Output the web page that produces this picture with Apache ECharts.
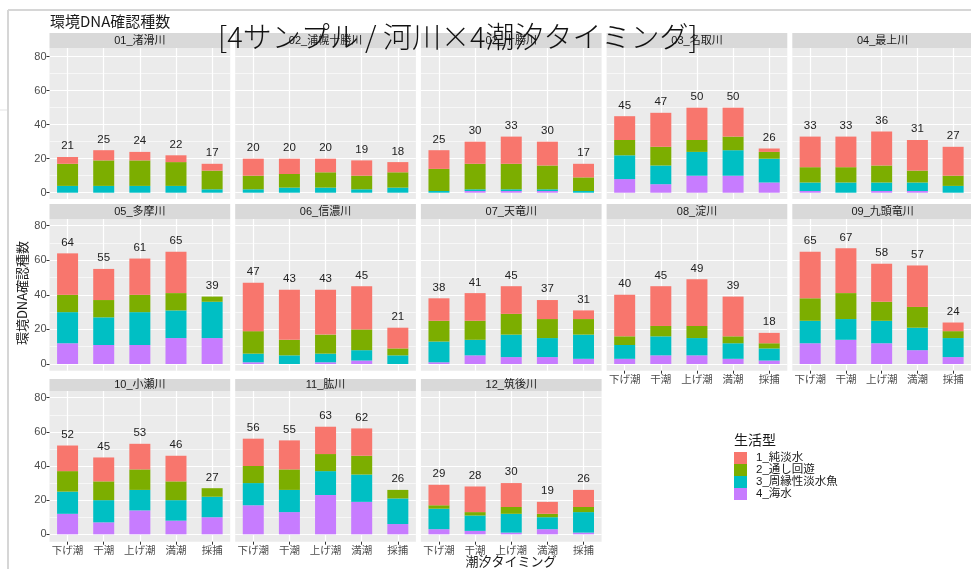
<!DOCTYPE html>
<html lang="ja">

<head>
    <meta charset="UTF-8">
    <title>環境DNA確認種数</title>
    <script src="https://cdn.jsdelivr.net/npm/echarts@6/dist/echarts.min.js"></script>
</head>

<style>
    html,
    body {
        margin: 0;
        padding: 0;
        background: #fff;
    }

    #main {
        width: 971px;
        height: 569px;
    }
</style>

<body>
    <div id="main"></div>
</body>

</html>

<script>
    let rivers = ['01_渚滑川', '02_浦幌十勝川', '02_十勝川', '03_名取川', '04_最上川',
        '05_多摩川', '06_信濃川', '07_天竜川', '08_淀川', '09_九頭竜川',
        '10_小瀬川', '11_肱川', '12_筑後川'];
    let timing = ['下げ潮', '干潮', '上げ潮', '満潮', '採捕'];
    let typeNames = ['1_純淡水', '2_通し回遊', '3_周縁性淡水魚', '4_海水'];

    // 1_純淡水
    let freshwater = [[4, 6, 5, 4, 4], [10, 9, 8, 9, 6], [11, 13, 16, 14, 8], [14, 20, 19, 17, 2], [18, 18, 20, 18, 17],
        [24, 18, 21, 24, 0], [28, 29, 26, 25, 12], [13, 16, 16, 11, 5], [24, 23, 27, 23, 6], [27, 26, 22, 24, 5],
        [15, 14, 15, 15, 0], [16, 17, 16, 16, 0], [12, 15, 14, 7, 10]];
    // 2_通し回遊
    let diadromous = [[13, 15, 15, 14, 11], [8, 8, 9, 8, 9], [13, 15, 15, 14, 8], [9, 11, 7, 8, 4], [9, 9, 10, 7, 6],
        [10, 10, 10, 10, 3], [13, 9, 11, 12, 4], [12, 11, 12, 11, 9], [5, 6, 7, 4, 3], [13, 15, 11, 12, 4],
        [12, 11, 12, 11, 5], [10, 12, 10, 11, 5], [2, 2, 4, 2, 3]];
    // 3_周縁性淡水魚
    let peripheral = [[4, 4, 4, 4, 2], [2, 3, 3, 2, 3], [1, 1, 1, 1, 1], [14, 11, 14, 15, 14], [5, 6, 5, 5, 4],
        [18, 16, 19, 16, 21], [5, 5, 5, 6, 5], [12, 9, 13, 11, 14], [8, 11, 10, 9, 7], [13, 12, 13, 13, 11],
        [13, 13, 12, 12, 12], [13, 13, 14, 16, 15], [12, 9, 11, 7, 12]];
    // 4_海水
    let seaWater = [[0, 0, 0, 0, 0], [0, 0, 0, 0, 0], [0, 1, 1, 1, 0], [8, 5, 10, 10, 6], [1, 0, 1, 1, 0],
        [12, 11, 11, 15, 15], [1, 0, 1, 2, 0], [1, 5, 4, 4, 3], [3, 5, 5, 3, 2], [12, 14, 12, 8, 4],
        [12, 7, 14, 8, 10], [17, 13, 23, 19, 6], [3, 2, 1, 3, 1]];

    let color = ['#F8766D', '#7CAE00', '#00BFC4', '#C77CFF'];

    // facet layout
    let colLeft = [49.5, 235.2, 420.9, 606.6, 792.3];
    let panelW = 180.7;
    let stripTop = [33, 204, 379];
    let panelTop = [48, 219, 391];
    let y80 = [56.7, 225.7, 397.7];
    let y0 = [192.7, 364, 534.3];
    let panelBottom = [199, 370.7, 541.7];

    let latin = '"Liberation Sans", "Noto Sans CJK JP", sans-serif';
    let cjk = '"Noto Sans CJK JP", sans-serif';

    function total(k, i) {
        return seaWater[k][i] + peripheral[k][i] + diadromous[k][i] + freshwater[k][i];
    }

    let grids = [], xAxes = [], yAxes = [], series = [];
    let graphics = [
        { type: 'line', shape: { x1: 8, y1: 10, x2: 971, y2: 10 }, style: { stroke: '#d6d6d6', lineWidth: 2 } },
        { type: 'line', shape: { x1: 8, y1: 10, x2: 8, y2: 569 }, style: { stroke: '#d6d6d6', lineWidth: 2 } },
        { type: 'line', shape: { x1: 0, y1: 110, x2: 7, y2: 110 }, style: { stroke: '#e3e3e3', lineWidth: 1 } }
    ];

    for (let k = 0; k < rivers.length; k++) {
        let row = Math.floor(k / 5), col = k % 5;
        let isBottom = k >= 8;

        // panel background + vertical grid lines
        grids.push({
            left: colLeft[col], top: panelTop[row], width: panelW,
            height: panelBottom[row] - panelTop[row],
            show: true, backgroundColor: '#ebebeb', borderWidth: 0, z: -1
        });
        xAxes.push({
            gridIndex: 2 * k, type: 'category', data: timing,
            axisLine: { show: false },
            axisTick: { show: isBottom, interval: 0, alignWithLabel: true, length: 3, lineStyle: { color: '#333' } },
            axisLabel: { show: isBottom, interval: 0, fontSize: 10.5, color: '#4d4d4d', margin: 3, fontFamily: cjk },
            splitLine: { show: true, interval: 0, alignWithLabel: true, lineStyle: { color: '#fff', width: 1.2 } }
        });
        yAxes.push({ gridIndex: 2 * k, type: 'value', show: false, min: 0, max: 1 });

        // data grid
        grids.push({
            left: colLeft[col], top: y80[row], width: panelW, height: y0[row] - y80[row]
        });
        xAxes.push({ gridIndex: 2 * k + 1, type: 'category', data: timing, show: false });
        yAxes.push({
            gridIndex: 2 * k + 1, type: 'value', min: 0, max: 80, interval: 20,
            axisLine: { show: false },
            axisTick: { show: col === 0, length: 3, lineStyle: { color: '#333' } },
            axisLabel: { show: col === 0, fontSize: 11, color: '#4d4d4d', margin: 3, fontFamily: latin },
            splitLine: { show: true, lineStyle: { color: '#fff', width: 1.2 } },
            minorTick: { show: false, splitNumber: 2 },
            minorSplitLine: { show: true, lineStyle: { color: '#fff', width: 0.6 } }
        });

        let layers = [seaWater, peripheral, diadromous, freshwater];
        let layerNames = [typeNames[3], typeNames[2], typeNames[1], typeNames[0]];
        let layerColors = [color[3], color[2], color[1], color[0]];
        for (let j = 0; j < 4; j++) {
            let s = {
                name: layerNames[j],
                type: 'bar',
                xAxisIndex: 2 * k + 1,
                yAxisIndex: 2 * k + 1,
                stack: 'p' + k,
                barWidth: 21,
                itemStyle: { color: layerColors[j] },
                data: layers[j][k]
            };
            if (j === 3) {
                s.label = {
                    show: true, position: 'top', distance: 5,
                    fontSize: 11.5, color: '#222', fontFamily: latin,
                    formatter: function (p) {
                        return total(k, p.dataIndex);
                    }
                };
            }
            series.push(s);
        }

        // strip
        graphics.push({
            type: 'rect',
            shape: { x: colLeft[col], y: stripTop[row], width: panelW, height: panelTop[row] - stripTop[row] },
            style: { fill: '#d9d9d9' }
        });
        graphics.push({
            type: 'text',
            x: colLeft[col] + panelW / 2, y: (stripTop[row] + panelTop[row]) / 2,
            style: {
                text: rivers[k], fontSize: 11, fill: '#1a1a1a', fontFamily: latin,
                align: 'center', verticalAlign: 'middle', textAlign: 'center', textVerticalAlign: 'middle'
            }
        });
    }

    graphics.push({
        type: 'text', x: 50, y: 21,
        style: { text: '環境DNA確認種数', fontSize: 15, fill: '#1a1a1a', fontFamily: cjk, verticalAlign: 'middle', textVerticalAlign: 'middle' }
    });
    graphics.push({
        type: 'text', x: 22, y: 293, rotation: Math.PI / 2,
        style: {
            text: '環境DNA確認種数', fontSize: 13, fill: '#1a1a1a', fontFamily: cjk,
            align: 'center', verticalAlign: 'middle', textAlign: 'center', textVerticalAlign: 'middle'
        }
    });
    graphics.push({
        type: 'text', x: 511, y: 561,
        style: {
            text: '潮汐タイミング', fontSize: 13, fill: '#1a1a1a', fontFamily: cjk,
            align: 'center', verticalAlign: 'middle', textAlign: 'center', textVerticalAlign: 'middle'
        }
    });
    graphics.push({
        type: 'text', x: 734, y: 440,
        style: { text: '生活型', fontSize: 14, fill: '#1a1a1a', fontFamily: cjk, verticalAlign: 'middle', textVerticalAlign: 'middle' }
    });
    graphics.push({
        type: 'text', x: 218, y: 37, z: 10,
        style: {
            text: '[4サンプル / 河川×4潮汐タイミング]', fontSize: 29, fontWeight: 300,
            fill: '#111', fontFamily: cjk, verticalAlign: 'middle', textVerticalAlign: 'middle'
        }
    });

    var myChart = echarts.init(document.getElementById('main'));

    option = {
        animation: false,
        color: color,
        legend: {
            data: typeNames,
            orient: 'vertical',
            left: 734,
            top: 452,
            itemWidth: 13,
            itemHeight: 12,
            itemGap: 0,
            icon: 'rect',
            selectedMode: false,
            padding: 0,
            textStyle: { fontSize: 11.5, lineHeight: 12, color: '#1a1a1a', fontFamily: latin, padding: [0, 0, 0, 4] }
        },
        grid: grids,
        xAxis: xAxes,
        yAxis: yAxes,
        series: series,
        graphic: graphics
    };

    myChart.setOption(option);
</script>
